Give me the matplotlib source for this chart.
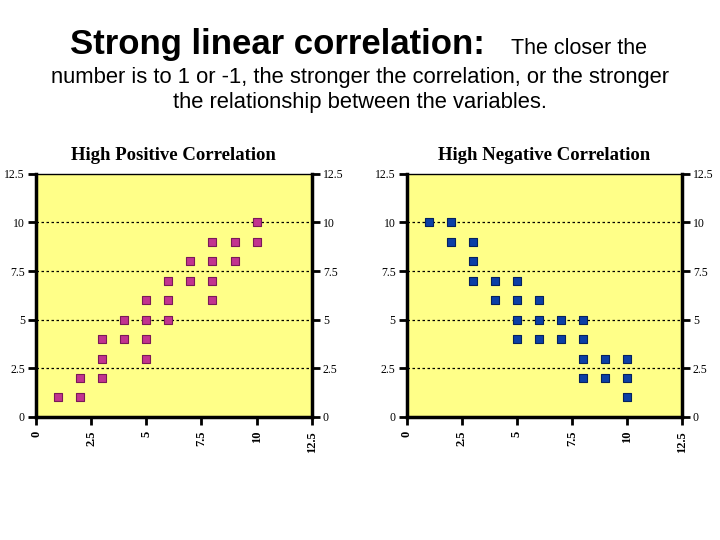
import numpy as np
import matplotlib.pyplot as plt

# points
pos_x = [1, 2, 2, 3, 3, 3, 4, 4, 5, 5, 5, 5, 6, 6, 6, 7, 7, 8, 8, 8, 8, 9, 9, 10, 10]
pos_y = [1, 2, 1, 4, 3, 2, 5, 4, 6, 5, 4, 3, 7, 6, 5, 8, 7, 9, 8, 7, 6, 9, 8, 10, 9]

neg_x = [1, 2, 2, 3, 3, 3, 4, 4, 5, 5, 5, 5, 6, 6, 6, 7, 7, 8, 8, 8, 8, 9, 9, 10, 10, 10]
neg_y = [10, 10, 9, 9, 8, 7, 7, 6, 7, 6, 5, 4, 6, 5, 4, 5, 4, 5, 4, 3, 2, 3, 2, 3, 2, 1]

ticks = [0, 2.5, 5, 7.5, 10, 12.5]
tick_labels = ['0', '2.5', '5', '7.5', '10', '12.5']

panels = [
    ('High Positive Correlation', pos_x, pos_y, '#c2338f', '#7a1a58', [0.05, 0.228, 0.383, 0.45]),
    ('High Negative Correlation', neg_x, neg_y, '#0b3fa6', '#06225e', [0.565, 0.228, 0.382, 0.45]),
]

fig = plt.figure(figsize=(7.2, 5.4), dpi=100)

fig.text(70 / 720, 0.90, 'Strong linear correlation:', ha='left', va='baseline',
         fontsize=25, fontweight='bold', family='Liberation Sans')
fig.text(511 / 720, 0.90, 'The closer the', ha='left', va='baseline',
         fontsize=15.5, family='Liberation Sans')
fig.text(0.5, 0.846, 'number is to 1 or -1, the stronger the correlation, or the stronger',
         ha='center', va='baseline', fontsize=15.8, family='Liberation Sans')
fig.text(0.5, 0.800, 'the relationship between the variables.',
         ha='center', va='baseline', fontsize=15.8, family='Liberation Sans')

for title, xs, ys, face, edge, rect in panels:
    ax = fig.add_axes(rect)
    ax.set_facecolor('#ffff88')
    ax.scatter(xs, ys, marker='s', s=36, c=face, edgecolors=edge, linewidths=0.8, zorder=3)
    ax.set_xlim(0, 12.5)
    ax.set_ylim(0, 12.5)
    for g in ticks[1:-1]:
        ax.axhline(g, color='black', lw=0.9, ls=(0, (2, 2)), zorder=1)
    ax.set_xticks(ticks)
    ax.set_yticks(ticks)
    ax.set_xticklabels(tick_labels, rotation=90, family='Liberation Serif', fontsize=9, fontweight='bold')
    ax.set_yticklabels(tick_labels, family='Liberation Serif', fontsize=8.5)
    ax.tick_params(axis='y', direction='out', length=6, width=2, left=True, right=True,
                   labelleft=True, labelright=True, pad=2)
    ax.tick_params(axis='x', direction='out', length=6, width=2, pad=4)
    for side in ['left', 'right', 'bottom']:
        ax.spines[side].set_linewidth(2.5)
    ax.spines['top'].set_linewidth(1)
    ax.set_title(title, family='Liberation Serif', fontweight='bold', fontsize=13.5, pad=10)

fig.savefig('out.png', dpi=100)
